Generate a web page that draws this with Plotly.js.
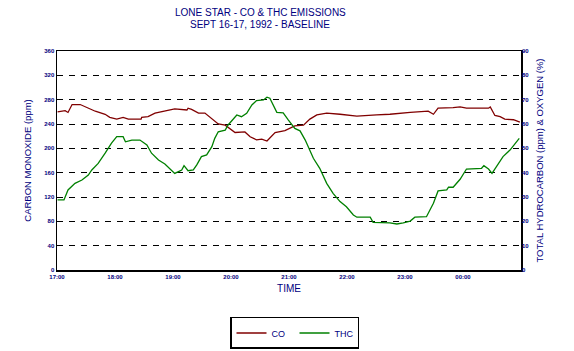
<!DOCTYPE html>
<html>
<head>
<meta charset="utf-8">
<script src="https://cdn.plot.ly/plotly-3.0.1.min.js"></script>
<style>html,body{margin:0;padding:0;background:#fff}#chart{width:574px;height:351px}</style>
</head>
<body>
<div id="chart"></div>
<script>
// Time in decimal hours (24 = 00:00 next day)
var coTime = [17.01,17.14,17.19,17.26,17.40,17.54,17.66,17.83,17.91,18.03,18.14,18.23,18.45,18.46,18.57,18.69,18.89,19.03,19.24,19.26,19.32,19.44,19.55,19.67,19.78,19.90,20.07,20.24,20.33,20.44,20.53,20.62,20.76,20.93,21.02,21.10,21.25,21.36,21.48,21.65,21.88,22.17,22.51,22.74,23.09,23.40,23.49,23.57,23.83,23.95,24.06,24.44,24.47,24.55,24.64,24.72,24.87,24.98];
var coValues = [260,262,259,272,272,266,261,256,251,248,251,248,248,251,252,258,262,265,263,266,264,258,258,249,240,238,226,227,219,214,215,212,226,229,233,237,238,248,255,258,256,253,255,256,259,261,256,266,267,268,266,266,268,254,252,248,247,243];

var thcTime = [17.01,17.12,17.19,17.31,17.43,17.54,17.60,17.71,17.83,17.94,18.03,18.14,18.18,18.29,18.43,18.55,18.63,18.75,18.86,18.95,19.03,19.15,19.19,19.26,19.35,19.41,19.49,19.58,19.67,19.72,19.78,19.90,19.95,20.10,20.18,20.27,20.36,20.44,20.56,20.62,20.67,20.79,20.90,20.99,21.04,21.10,21.19,21.28,21.42,21.53,21.65,21.76,21.88,21.99,22.11,22.17,22.40,22.45,22.74,22.86,22.97,23.09,23.17,23.37,23.49,23.57,23.72,23.75,23.83,23.95,24.06,24.32,24.36,24.44,24.50,24.58,24.69,24.81,24.90,24.97];
var thcValues = [28.8,28.8,32.9,35.6,37.0,39.0,41.1,43.8,48.0,52.1,54.8,54.8,52.7,53.4,53.4,51.4,48.0,45.2,43.6,41.4,39.7,41.1,42.9,40.8,41.1,43.2,46.6,47.3,50.7,54.1,56.8,57.5,59.6,63.7,63.0,64.4,67.8,69.6,69.9,71.0,70.6,64.8,64.6,61.6,60.0,58.2,57.2,53.4,45.9,41.8,35.6,31.5,28.1,26.0,22.6,21.7,21.7,19.6,19.4,18.9,19.4,20.1,21.7,21.9,27.4,32.5,32.9,34.0,34.0,37.3,41.5,41.8,42.9,41.5,39.7,42.5,46.6,49.3,52.1,54.1];

var tickHours = [17,18,19,20,21,22,23,24];
var tickLabels = ['17:00','18:00','19:00','20:00','21:00','22:00','23:00','00:00'];

var titleLines = ['LONE STAR - CO &amp; THC EMISSIONS', 'SEPT 16-17, 1992 - BASELINE'];

var navy = '#000080';
var fam = 'Liberation Sans, Arial, sans-serif';
var tickFont = {size: 6, color: navy, family: fam, weight: 'bold'};

var traces = [
  {x: coTime, y: coValues, name: 'CO', type: 'scatter', mode: 'lines',
   line: {color: '#800000', width: 1.3}, yaxis: 'y'},
  {x: thcTime, y: thcValues, name: 'THC', type: 'scatter', mode: 'lines',
   line: {color: '#008000', width: 1.3}, yaxis: 'y2'}
];

var layout = {
  width: 574, height: 351,
  margin: {l: 57, r: 53, t: 51, b: 81, pad: 0},
  paper_bgcolor: '#fff', plot_bgcolor: '#fff',
  font: {family: fam, color: navy},
  annotations: [
    {text: titleLines[0], xref: 'paper', yref: 'paper', x: 0.4375, y: 1.178,
     xanchor: 'center', yanchor: 'middle', showarrow: false,
     font: {size: 10, color: navy, family: fam}},
    {text: titleLines[1], xref: 'paper', yref: 'paper', x: 0.4375, y: 1.119,
     xanchor: 'center', yanchor: 'middle', showarrow: false,
     font: {size: 10, color: navy, family: fam}}
  ],
  xaxis: {
    range: [17, 25], tickvals: tickHours, ticktext: tickLabels,
    showgrid: false, zeroline: false, automargin: false,
    showline: true, linecolor: '#000', linewidth: 1.5, mirror: true,
    ticks: '', tickfont: tickFont,
    title: {text: 'TIME', font: {size: 10, color: navy, family: fam}, standoff: 6}
  },
  yaxis: {
    range: [0, 360], dtick: 40, tick0: 0, automargin: false,
    showgrid: true, gridcolor: '#000', gridwidth: 1, griddash: '6px,6px',
    zeroline: false, showline: true, linecolor: '#000', linewidth: 1.5, mirror: true,
    ticks: '', tickfont: tickFont,
    title: {text: 'CARBON MONOXIDE (ppm)', font: {size: 9.5, color: navy, family: fam}, standoff: 11}
  },
  yaxis2: {
    range: [0, 90], dtick: 10, tick0: 0, automargin: false,
    overlaying: 'y', side: 'right',
    showgrid: false, zeroline: false, showline: false,
    ticks: '', tickfont: tickFont,
    title: {text: 'TOTAL HYDROCARBON (ppm) &amp; OXYGEN (%)', font: {size: 9.5, color: navy, family: fam}, standoff: 8}
  },
  showlegend: true,
  legend: {
    orientation: 'h', xref: 'container', yref: 'container',
    x: 0.4007, xanchor: 'left', y: 0.0969, yanchor: 'top',
    bordercolor: '#000', borderwidth: 1.5, bgcolor: '#fff',
    font: {size: 9, color: navy, family: fam},
    itemwidth: 30, entrywidth: 18, entrywidthmode: 'pixels'
  }
};

Plotly.newPlot('chart', traces, layout, {displayModeBar: false, staticPlot: true});
</script>
</body>
</html>
